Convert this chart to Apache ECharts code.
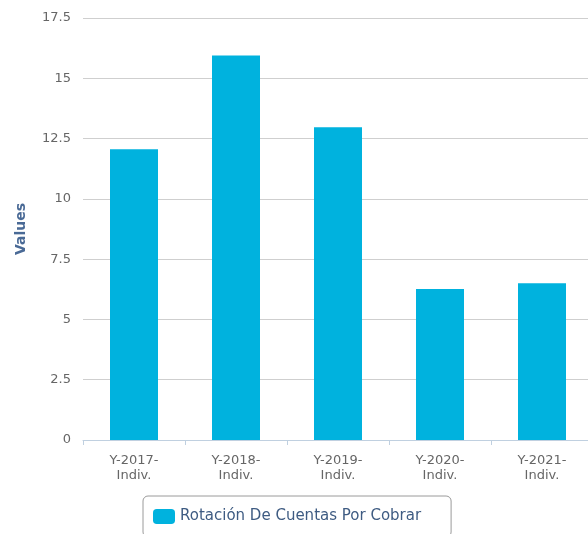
<!DOCTYPE html>
<html>
<head>
<meta charset="utf-8">
<script src="https://cdn.jsdelivr.net/npm/echarts@6/dist/echarts.min.js"></script>
<style>
html,body{margin:0;padding:0;background:#fff;overflow:hidden;width:588px;height:534px;}
#c{width:593px;height:534px;}
</style>
</head>
<body>
<div id="c"></div>
<script>
var categories = ["Y-2017-Indiv.", "Y-2018-Indiv.", "Y-2019-Indiv.", "Y-2020-Indiv.", "Y-2021-Indiv."];
var seriesName = "Rotación De Cuentas Por Cobrar";
var values = [12.06, 15.94, 12.97, 6.26, 6.50];
var yMin = 0, yMax = 17.5, yStep = 2.5;

var chart = echarts.init(document.getElementById('c'), null, {renderer: 'canvas'});
var font = 'DejaVu Sans';
chart.setOption({
  animation: false,
  backgroundColor: '#ffffff',
  grid: {left: 83, top: 18, width: 510, height: 422, containLabel: false},
  legend: {
    left: 143, top: 496,
    padding: [13, 30, 13, 10],
    itemWidth: 22, itemHeight: 15, itemGap: 10,
    borderColor: '#9a9a9a', borderWidth: 1, borderRadius: 5,
    icon: 'roundRect',
    textStyle: {color: '#3e5b82', fontSize: 15, fontFamily: font},
    data: [seriesName]
  },
  xAxis: {
    type: 'category',
    data: categories,
    boundaryGap: true,
    axisLine: {lineStyle: {color: '#c0d0e0', width: 1}},
    axisTick: {show: true, length: 5, lineStyle: {color: '#c0d0e0'}},
    axisLabel: {
      color: '#666666', fontSize: 13, fontFamily: font, lineHeight: 15, margin: 13,
      formatter: function (v) { var i = v.lastIndexOf('-'); return v.slice(0, i + 1) + '\n' + v.slice(i + 1); }
    },
    splitLine: {show: false}
  },
  yAxis: {
    type: 'value',
    min: yMin, max: yMax, interval: yStep,
    name: 'Values',
    nameLocation: 'middle',
    nameGap: 55,
    nameRotate: 90,
    nameTextStyle: {color: '#4a6a96', fontSize: 14, fontWeight: 'bold', fontFamily: font},
    axisLine: {show: false},
    axisTick: {show: false},
    axisLabel: {color: '#666666', fontSize: 13, fontFamily: font, margin: 12},
    splitLine: {lineStyle: {color: '#cfcfcf', width: 1}}
  },
  series: [{
    name: seriesName,
    type: 'bar',
    data: values,
    barWidth: 48,
    itemStyle: {color: '#00b2de'}
  }]
});
</script>
</body>
</html>
